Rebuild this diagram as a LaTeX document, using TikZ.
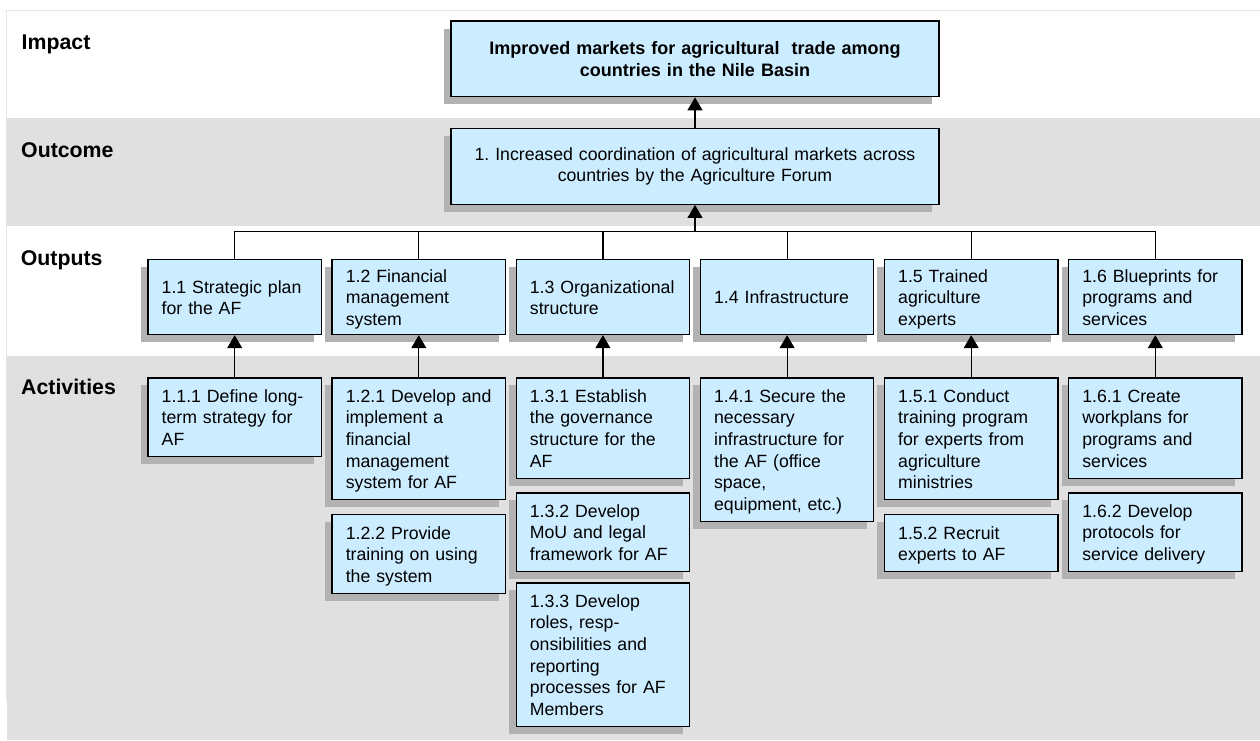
\documentclass[tikz,border=0pt]{standalone}
\usepackage{fontspec}
\setmainfont{Liberation Sans}
\usetikzlibrary{arrows.meta,shadows}
\definecolor{boxfill}{HTML}{CCECFF}
\definecolor{bandgray}{HTML}{E0E0E0}
\definecolor{shade}{HTML}{B2B2B2}
\definecolor{framegray}{HTML}{E6E6E6}
% strut giving every text line the same height and depth
\newcommand\lstrut{\rule[-4.1pt]{0pt}{21.6pt}}
% lines are broken by hand only; plain word spacing after periods
\hyphenpenalty=10000
\exhyphenpenalty=10000
\frenchspacing

\begin{document}
\begin{tikzpicture}[x=1pt,y=-1pt,
  card/.style={draw=black, line width=1.2pt, fill=boxfill,
    drop shadow={shadow xshift=-7pt, shadow yshift=-7.5pt, fill=shade, opacity=1},
    font=\fontsize{17.7}{21.6}\selectfont, inner ysep=6.9pt},
  item/.style={card, minimum width=173.5pt, text width=146pt, inner xsep=13.75pt,
    align=left, anchor=north,
    execute at begin node=\lstrut, execute at end node=\lstrut},
  outbox/.style={item, minimum height=75pt, inner ysep=3pt},
  topbox/.style={card, minimum width=488pt, minimum height=75.7pt,
    text width=470pt, inner xsep=9pt, align=center},
  lbl/.style={font=\fontsize{21.3}{25}\selectfont\bfseries, anchor=base west, inner sep=0pt},
  link/.style={line width=1.2pt},
  up/.style={link, -{Triangle[width=15pt,length=13pt]}},
]
\useasboundingbox (0,0) rectangle (1260,740);

% horizontal bands and frame
\fill[bandgray] (7,118) rectangle (1260,226);
\fill[bandgray] (7,356) rectangle (1260,740);
\draw[framegray, line width=1pt] (6.5,701) -- (6.5,10) -- (1260,10);

% level labels
\node[lbl] (limpact)  at (21.5,49.3)  {Impact};
\node[lbl] (loutcome) at (21,157.3)   {Outcome};
\node[lbl] (loutputs) at (20.7,265.7) {Outputs};
\node[lbl] (lact)     at (21,394.3)   {Activities};

% impact and outcome
\node[topbox, font=\fontsize{18}{21.7}\selectfont\bfseries] (impact) at (695,58.9)
  {Improved markets for agricultural\ \ trade among\\countries in the Nile Basin};
\node[topbox, font=\fontsize{17.7}{21.7}\selectfont] (outcome) at (695,166.5)
  {1. Increased coordination of agricultural markets across\\countries by the Agriculture Forum};

% outputs
\node[outbox] (o11) at (234.7,259)  {1.1 Strategic plan\\for the AF};
\node[outbox] (o12) at (418.8,259)  {1.2 Financial\\management\\system};
\node[outbox] (o13) at (602.9,259)  {1.3 Organizational\\structure};
\node[outbox] (o14) at (787.1,259)  {1.4 Infrastructure};
\node[outbox] (o15) at (971.2,259)  {1.5 Trained\\agriculture\\experts};
\node[outbox] (o16) at (1155.3,259) {1.6 Blueprints for\\programs and\\services};

% activities
\node[item] (a111) at (234.7,377.3) {1.1.1 Define long-\\term strategy for\\AF};
\node[item] (a121) at (418.8,377.3) {1.2.1 Develop and\\implement a\\financial\\management\\system for AF};
\node[item] (a122) at (418.8,514)   {1.2.2 Provide\\training on using\\the system};
\node[item] (a131) at (602.9,377.3) {1.3.1 Establish\\the governance\\structure for the\\AF};
\node[item] (a132) at (602.9,492.3) {1.3.2 Develop\\MoU and legal\\framework for AF};
\node[item] (a133) at (602.9,582.3) {1.3.3 Develop\\roles, resp-\\onsibilities and\\reporting\\processes for AF\\Members};
\node[item] (a141) at (787.1,377.3) {1.4.1 Secure the\\necessary\\infrastructure for\\the AF (office\\space,\\equipment, etc.)};
\node[item] (a151) at (971.2,377.3) {1.5.1 Conduct\\training program\\for experts from\\agriculture\\ministries};
\node[item] (a152) at (971.2,514)   {1.5.2 Recruit\\experts to AF};
\node[item] (a161) at (1155.3,377.3) {1.6.1 Create\\workplans for\\programs and\\services};
\node[item] (a162) at (1155.3,492.3) {1.6.2 Develop\\protocols for\\service delivery};

% connectors
\coordinate (bus) at (695,231.7);
\draw[up] (bus) -- (outcome.south);
\draw[up] (outcome.north) -- (impact.south);
\draw[link] (o11.north) |- (bus) -| (o16.north);
\foreach \o in {o12,o13,o14,o15}
  \draw[link] (\o.north) -- (\o.north |- bus);
\foreach \a/\o in {a111/o11,a121/o12,a131/o13,a141/o14,a151/o15,a161/o16}
  \draw[up] (\a.north) -- (\o.south);
\end{tikzpicture}
\end{document}
